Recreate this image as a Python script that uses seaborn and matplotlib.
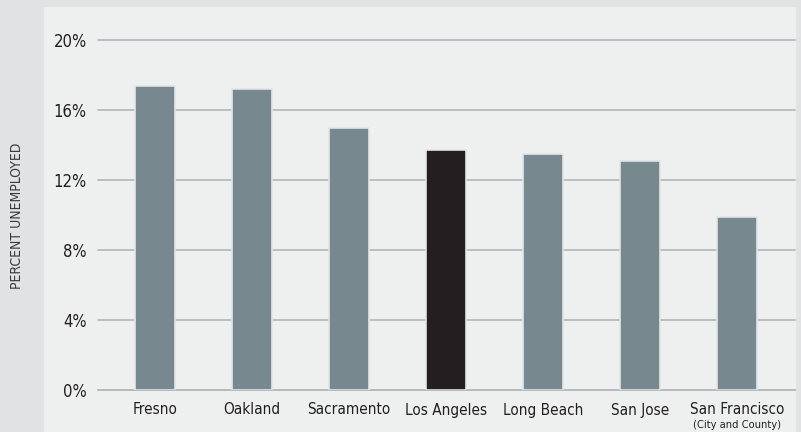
import pandas as pd
import seaborn as sns
import matplotlib.pyplot as plt
from matplotlib.patches import Rectangle

cities = ["Fresno", "Oakland", "Sacramento", "Los Angeles", "Long Beach", "San Jose", "San Francisco"]
unemployment = [17.4, 17.2, 15.0, 13.7, 13.5, 13.1, 9.9]
bar_colors = ["#77898e", "#77898e", "#77898e", "#231f20", "#77898e", "#77898e", "#77898e"]
yticks = [0, 4, 8, 12, 16, 20]
ytick_labels = ["0%", "4%", "8%", "12%", "16%", "20%"]

df = pd.DataFrame({"city": cities, "rate": unemployment})

sns.set_theme(style="white")
plt.rcParams["font.family"] = ["Liberation Sans Narrow", "DejaVu Sans"]
plt.rcParams["font.stretch"] = "condensed"
text_color = "#231f20"
grid_color = "#b4bbbf"

W, H = 801, 432
fig = plt.figure(figsize=(W / 100, H / 100), dpi=100)
fig.patch.set_facecolor("#e1e2e3")
# inner light panel
fig.patches.append(Rectangle((44 / W, 0), (796 - 44) / W, (H - 7) / H,
                             transform=fig.transFigure, facecolor="#eef0ef",
                             edgecolor="none", zorder=-10))

ax = fig.add_axes([98 / W, 42 / H, (795 - 98) / W, 350 / H])
ax.set_facecolor("none")

sns.barplot(data=df, x="city", y="rate", hue="city", palette=bar_colors,
            width=0.41, legend=False, edgecolor="#e2e5e6", linewidth=1.2,
            saturation=1, ax=ax, zorder=3)

ax.set_xlim(-0.59, 6.6)
ax.set_ylim(0, 20)
ax.set_yticks(yticks)
ax.set_yticklabels(ytick_labels)
ax.yaxis.grid(True, color=grid_color, linewidth=1.3, zorder=0)
for gl in ax.get_ygridlines():
    gl.set_clip_on(False)
ax.set_axisbelow(True)
for s in ["top", "right", "left"]:
    ax.spines[s].set_visible(False)
ax.spines["bottom"].set_color(grid_color)
ax.spines["bottom"].set_linewidth(1.3)
ax.tick_params(axis="both", length=0, colors=text_color)
ax.tick_params(axis="y", pad=8, labelsize=12)
ax.tick_params(axis="x", pad=9, labelsize=11)
ax.set_xlabel("")
ax.set_ylabel("")

ax.text(6, -1.72, "(City and County)", ha="center", va="top", fontsize=8,
        color=text_color)

fig.text(17 / W, 0.5, "PERCENT UNEMPLOYED", rotation=90, ha="center",
         va="center", fontsize=10, color="#3a3a3a")

plt.savefig("out.png", dpi=100, facecolor=fig.get_facecolor())
